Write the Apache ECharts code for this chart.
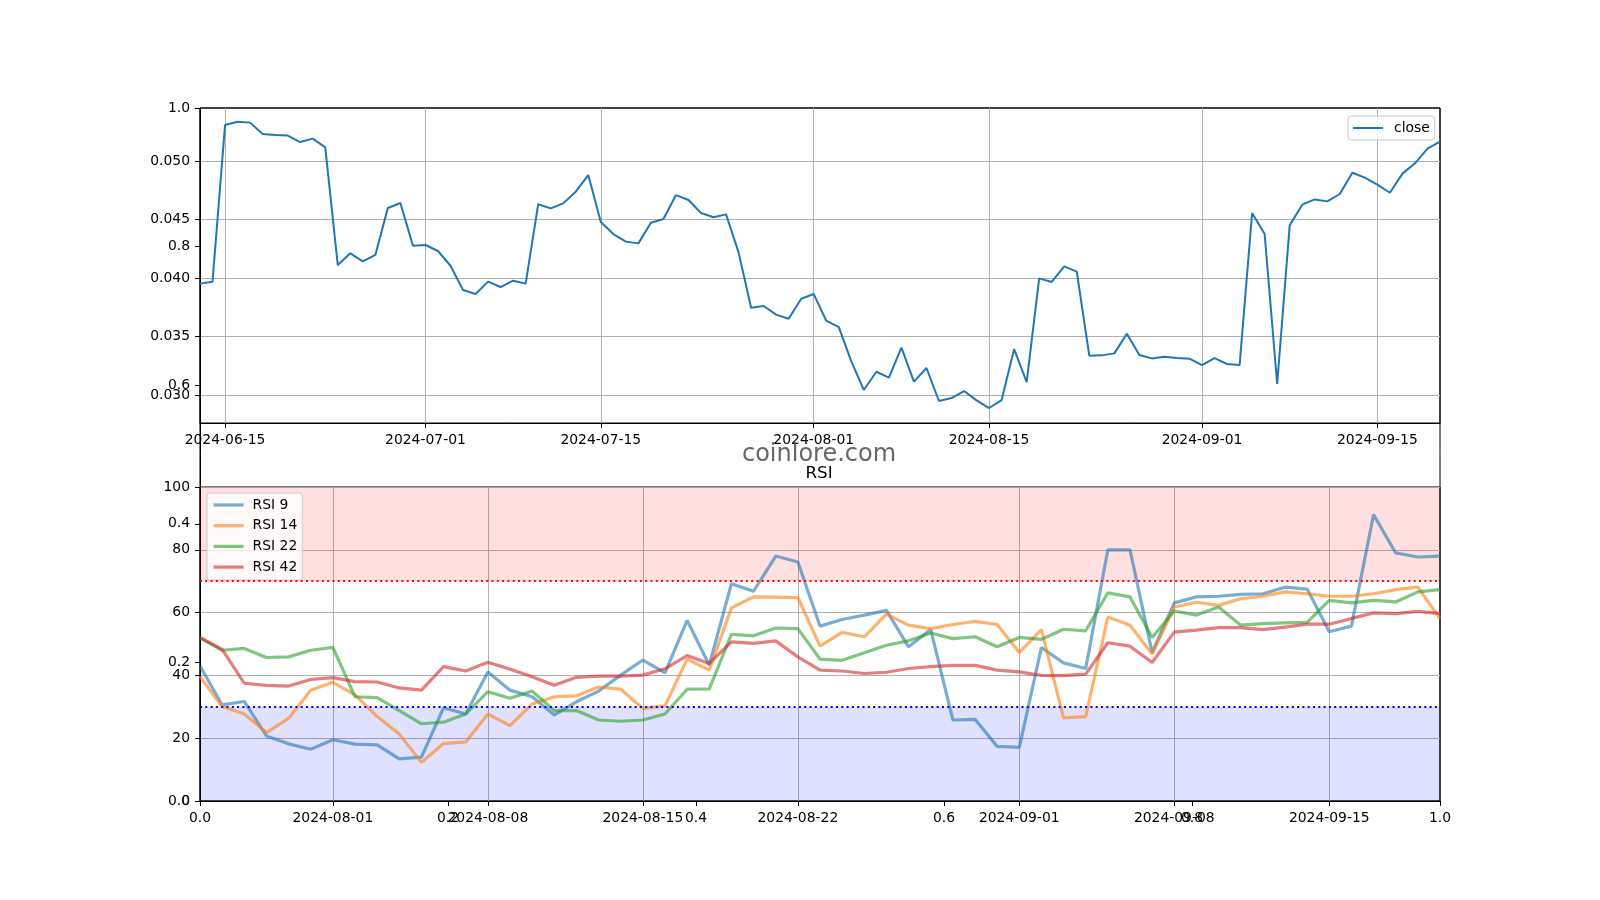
<!DOCTYPE html>
<html>
<head>
<meta charset="utf-8">
<script src="https://cdn.jsdelivr.net/npm/echarts@6/dist/echarts.min.js"></script>
<style>
html,body{margin:0;padding:0;background:#fff;}
#chart{width:1600px;height:900px;}
</style>
</head>
<body>
<div id="chart"></div>
<script>
const priceDates = [
'2024-06-13','2024-06-14','2024-06-15','2024-06-16','2024-06-17','2024-06-18','2024-06-19','2024-06-20','2024-06-21','2024-06-22',
'2024-06-23','2024-06-24','2024-06-25','2024-06-26','2024-06-27','2024-06-28','2024-06-29','2024-06-30','2024-07-01','2024-07-02',
'2024-07-03','2024-07-04','2024-07-05','2024-07-06','2024-07-07','2024-07-08','2024-07-09','2024-07-10','2024-07-11','2024-07-12',
'2024-07-13','2024-07-14','2024-07-15','2024-07-16','2024-07-17','2024-07-18','2024-07-19','2024-07-20','2024-07-21','2024-07-22',
'2024-07-23','2024-07-24','2024-07-25','2024-07-26','2024-07-27','2024-07-28','2024-07-29','2024-07-30','2024-07-31','2024-08-01',
'2024-08-02','2024-08-03','2024-08-04','2024-08-05','2024-08-06','2024-08-07','2024-08-08','2024-08-09','2024-08-10','2024-08-11',
'2024-08-12','2024-08-13','2024-08-14','2024-08-15','2024-08-16','2024-08-17','2024-08-18','2024-08-19','2024-08-20','2024-08-21',
'2024-08-22','2024-08-23','2024-08-24','2024-08-25','2024-08-26','2024-08-27','2024-08-28','2024-08-29','2024-08-30','2024-08-31',
'2024-09-01','2024-09-02','2024-09-03','2024-09-04','2024-09-05','2024-09-06','2024-09-07','2024-09-08','2024-09-09','2024-09-10',
'2024-09-11','2024-09-12','2024-09-13','2024-09-14','2024-09-15','2024-09-16','2024-09-17','2024-09-18','2024-09-19','2024-09-20'
];
const priceClose = [
0.03952,0.03969,0.05308,0.05336,0.05328,0.05231,0.05222,0.05217,0.05162,0.05191,
0.05117,0.04111,0.04211,0.04142,0.04197,0.04598,0.04641,0.04276,0.04282,0.04231,
0.04105,0.03897,0.03863,0.03969,0.03923,0.03977,0.03952,0.04630,0.04595,0.04638,
0.04738,0.04880,0.04479,0.04376,0.04311,0.04296,0.04473,0.04504,0.04709,0.04667,
0.04556,0.04519,0.04544,0.04219,0.03746,0.03761,0.03687,0.03652,0.03823,0.03863,
0.03635,0.03581,0.03288,0.03043,0.03199,0.03148,0.03405,0.03114,0.03231,0.02949,
0.02974,0.03034,0.02954,0.02889,0.02957,0.03393,0.03111,0.03997,0.03966,0.04100,
0.04054,0.03336,0.03339,0.03356,0.03524,0.03342,0.03313,0.03328,0.03316,0.03311,
0.03256,0.03316,0.03265,0.03256,0.04556,0.04376,0.03094,0.04450,0.04627,0.04672,
0.04655,0.04718,0.04900,0.04858,0.04798,0.04729,0.04892,0.04980,0.05105,0.05165
];
const rsiDates = [
'2024-07-26','2024-07-27','2024-07-28','2024-07-29','2024-07-30','2024-07-31',
'2024-08-01','2024-08-02','2024-08-03','2024-08-04','2024-08-05','2024-08-06','2024-08-07','2024-08-08','2024-08-09','2024-08-10',
'2024-08-11','2024-08-12','2024-08-13','2024-08-14','2024-08-15','2024-08-16','2024-08-17','2024-08-18','2024-08-19','2024-08-20',
'2024-08-21','2024-08-22','2024-08-23','2024-08-24','2024-08-25','2024-08-26','2024-08-27','2024-08-28','2024-08-29','2024-08-30',
'2024-08-31','2024-09-01','2024-09-02','2024-09-03','2024-09-04','2024-09-05','2024-09-06','2024-09-07','2024-09-08','2024-09-09',
'2024-09-10','2024-09-11','2024-09-12','2024-09-13','2024-09-14','2024-09-15','2024-09-16','2024-09-17','2024-09-18','2024-09-19',
'2024-09-20'
];
const rsi9 = [43.0,30.6,31.7,20.7,18.2,16.5,19.5,18.1,17.9,13.4,14.0,29.7,
27.7,41.1,35.3,33.2,27.4,31.6,35.0,40.1,44.9,40.8,57.5,
43.3,69.2,66.8,78.0,76.1,55.7,57.8,59.2,60.7,49.1,54.6,
25.8,26.0,17.4,17.1,48.9,44.0,42.2,80.0,80.0,47.3,63.1,65.0,
65.2,65.8,66.0,68.1,67.5,53.9,55.7,91.2,79.0,77.7,78.0];
const rsi14 = [39.6,30.1,27.7,21.8,26.3,35.3,37.8,33.8,26.9,21.3,12.3,18.3,
18.8,27.7,24.0,30.9,33.2,33.5,36.3,35.6,29.5,30.3,45.2,
41.7,61.5,65.0,64.9,64.8,49.3,53.7,52.3,59.5,56.0,54.9,
56.2,57.2,56.2,47.3,54.6,26.5,26.9,58.6,56.0,46.8,61.8,63.3,
62.3,64.4,65.2,66.6,66.0,65.2,65.2,66.0,67.3,68.1,58.1];
const rsi22 = [52.0,48.0,48.6,45.7,45.9,48.0,48.9,33.2,32.9,28.8,24.6,25.1,
27.7,34.8,32.7,35.0,28.8,28.8,25.8,25.4,25.8,27.7,35.6,
35.7,53.1,52.6,55.1,54.9,45.2,44.8,47.2,49.6,51.0,53.5,
51.7,52.3,49.1,52.1,51.5,54.7,54.2,66.3,65.0,52.1,60.5,59.2,
61.8,56.0,56.5,56.7,56.9,63.9,63.1,63.9,63.4,66.6,67.3];
const rsi42 = [52.0,48.3,37.5,36.8,36.6,38.7,39.3,38.0,37.9,36.0,35.3,42.8,
41.4,44.2,42.0,39.6,36.9,39.4,39.8,39.8,40.1,42.1,46.3,
43.8,50.7,50.2,51.0,45.9,41.7,41.4,40.6,41.0,42.2,42.8,
43.2,43.2,41.7,41.1,40.0,39.9,40.4,50.4,49.3,44.1,53.8,54.4,
55.2,55.2,54.6,55.4,56.3,56.3,58.1,59.9,59.7,60.4,59.7];

const priceTickDates = ['2024-06-15','2024-07-01','2024-07-15','2024-08-01','2024-08-15','2024-09-01','2024-09-15'];
const rsiTickDates = ['2024-08-01','2024-08-08','2024-08-15','2024-08-22','2024-09-01','2024-09-08','2024-09-15'];
const priceTicks = [0.030,0.035,0.040,0.045,0.050];
const rsiTicks = [0,20,40,60,80,100];
const bgTicks = [0.0,0.2,0.4,0.6,0.8,1.0];
const overbought = 70, oversold = 30;

const FONT = 'DejaVu Sans';
const FS = 13.9;
const lbl = {color:'#000', fontFamily:FONT, fontSize:FS};
const axLine = {show:true, lineStyle:{color:'#000', width:1}};
const tick = {show:true, length:5, lineStyle:{color:'#000', width:1}};
const grid = {show:true, lineStyle:{color:'#b0b0b0', width:1}};

const chart = echarts.init(document.getElementById('chart'), null, {renderer:'canvas'});
const option = {
  animation:false,
  backgroundColor:'#fff',
  grid:[
    {left:200, top:108, width:1240, height:693, show:true, borderColor:'#000', borderWidth:1, backgroundColor:'transparent'},
    {left:200, top:108, width:1240, height:315, show:true, borderColor:'#000', borderWidth:1, backgroundColor:'transparent'},
    {left:200, top:487, width:1240, height:314, show:true, borderColor:'#000', borderWidth:1, backgroundColor:'transparent'}
  ],
  xAxis:[
    {gridIndex:0, type:'value', min:0, max:1, position:'bottom',
     axisLine:axLine, axisTick:Object.assign({customValues:bgTicks}, tick),
     axisLabel:Object.assign({customValues:bgTicks, margin:10, formatter:v=>v.toFixed(1)}, lbl),
     splitLine:{show:false}},
    {gridIndex:1, type:'category', data:priceDates, boundaryGap:false, position:'bottom',
     axisLine:axLine,
     axisTick:Object.assign({interval:(i,v)=>priceTickDates.includes(v)}, tick),
     axisLabel:Object.assign({interval:(i,v)=>priceTickDates.includes(v), margin:10}, lbl),
     splitLine:Object.assign({interval:(i,v)=>priceTickDates.includes(v)}, grid)},
    {gridIndex:2, type:'category', data:rsiDates, boundaryGap:false, position:'bottom',
     axisLine:axLine,
     axisTick:Object.assign({interval:(i,v)=>rsiTickDates.includes(v)}, tick),
     axisLabel:Object.assign({interval:(i,v)=>rsiTickDates.includes(v), margin:10}, lbl),
     splitLine:Object.assign({interval:(i,v)=>rsiTickDates.includes(v)}, grid)}
  ],
  yAxis:[
    {gridIndex:0, type:'value', min:0, max:1,
     axisLine:axLine, axisTick:Object.assign({customValues:bgTicks}, tick),
     axisLabel:Object.assign({customValues:bgTicks, margin:10, formatter:v=>v.toFixed(1)}, lbl),
     splitLine:{show:false}},
    {gridIndex:1, type:'value', min:0.02761, max:0.05453,
     axisLine:axLine, axisTick:Object.assign({customValues:priceTicks}, tick),
     axisLabel:Object.assign({customValues:priceTicks, margin:10, formatter:v=>v.toFixed(3)}, lbl),
     splitLine:grid},
    {gridIndex:2, type:'value', min:0, max:100,
     axisLine:axLine, axisTick:Object.assign({customValues:rsiTicks}, tick),
     axisLabel:Object.assign({customValues:rsiTicks, margin:10}, lbl),
     splitLine:grid}
  ],
  legend:[
    {data:['close'], left:1348, top:116, orient:'vertical',
     itemWidth:30, itemHeight:14, padding:[5,5,5,4],
     backgroundColor:'rgba(255,255,255,0.8)', borderColor:'#cccccc', borderWidth:1, borderRadius:3,
     lineStyle:{width:'inherit'}, itemStyle:{opacity:0},
     textStyle:Object.assign({padding:[0,0,0,6]}, lbl)},
    {data:['RSI 9','RSI 14','RSI 22','RSI 42'], left:207, top:493, orient:'vertical',
     itemWidth:30, itemHeight:14, itemGap:6.7, padding:[5,5,6,5],
     backgroundColor:'rgba(255,255,255,0.8)', borderColor:'#cccccc', borderWidth:1, borderRadius:3,
     lineStyle:{width:'inherit'}, itemStyle:{opacity:0},
     textStyle:Object.assign({padding:[0,0,0,4]}, lbl)}
  ],
  graphic:[
    {type:'text', x:819, y:455, style:{text:'coinlore.com', font:'24px "DejaVu Sans"', fill:'#555555', align:'center', verticalAlign:'middle', opacity:0.9}, silent:true, z:100},
    {type:'text', x:819, y:474, style:{text:'RSI', font:'16.7px "DejaVu Sans"', fill:'#000', align:'center', verticalAlign:'middle'}, silent:true, z:100}
  ],
  series:[
    {type:'line', xAxisIndex:0, yAxisIndex:0, data:[], silent:true},
    {name:'close', type:'line', xAxisIndex:1, yAxisIndex:1, data:priceClose, symbol:'none',
     lineStyle:{color:'#1f77b4', width:2}, itemStyle:{color:'#1f77b4'}, z:3},
    {name:'bands', type:'line', xAxisIndex:2, yAxisIndex:2, data:rsi9, symbol:'none', silent:true,
     lineStyle:{opacity:0}, z:1,
     markArea:{silent:true, data:[
       [{yAxis:overbought, itemStyle:{color:'rgba(255,0,0,0.12)'}},{yAxis:100}],
       [{yAxis:0, itemStyle:{color:'rgba(0,0,255,0.12)'}},{yAxis:oversold}]
     ]},
     markLine:{silent:true, symbol:'none', label:{show:false}, data:[
       {yAxis:overbought, lineStyle:{color:'#ff0000', type:[2,3.3], width:2}},
       {yAxis:oversold, lineStyle:{color:'#0000ff', type:[2,3.3], width:2}}
     ]}},
    {name:'RSI 9', type:'line', xAxisIndex:2, yAxisIndex:2, data:rsi9, symbol:'none',
     lineStyle:{color:'#1f77b4', width:3.2, opacity:0.6}, itemStyle:{color:'#1f77b4'}, z:3},
    {name:'RSI 14', type:'line', xAxisIndex:2, yAxisIndex:2, data:rsi14, symbol:'none',
     lineStyle:{color:'#ff7f0e', width:3.2, opacity:0.6}, itemStyle:{color:'#ff7f0e'}, z:3},
    {name:'RSI 22', type:'line', xAxisIndex:2, yAxisIndex:2, data:rsi22, symbol:'none',
     lineStyle:{color:'#2ca02c', width:3.2, opacity:0.6}, itemStyle:{color:'#2ca02c'}, z:3},
    {name:'RSI 42', type:'line', xAxisIndex:2, yAxisIndex:2, data:rsi42, symbol:'none',
     lineStyle:{color:'#d62728', width:3.2, opacity:0.6}, itemStyle:{color:'#d62728'}, z:3}
  ]
};
chart.setOption(option);
</script>
</body>
</html>
